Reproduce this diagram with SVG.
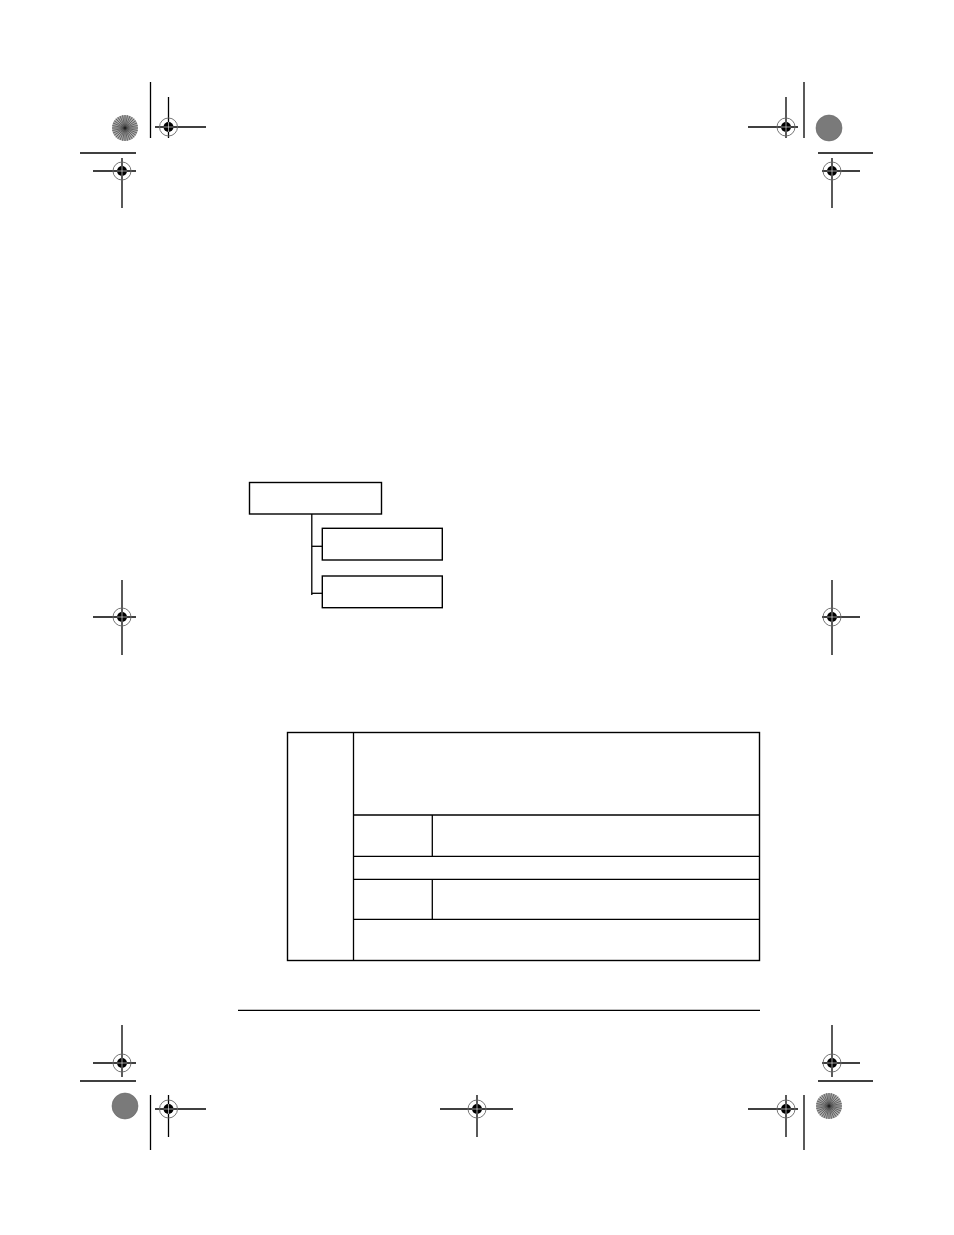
<svg xmlns="http://www.w3.org/2000/svg" xmlns:xlink="http://www.w3.org/1999/xlink" width="954" height="1235" viewBox="0 0 954 1235">
<style>
.ln{stroke:#000;stroke-width:1.3;fill:none}
.box{stroke:#000;stroke-width:1.4;fill:#fff}
.ring{stroke:#666;stroke-width:0.9;fill:none}
</style>
<defs>
<g id="reg">
<circle r="9" class="ring"/>
<circle r="5" fill="#000"/>
<line x1="-5" y1="0" x2="5" y2="0" stroke="#fff" stroke-width="0.6"/>
<line x1="0" y1="-5" x2="0" y2="5" stroke="#fff" stroke-width="0.6"/>
</g>
<g id="star">
<circle r="13" fill="#aaa"/>
<g stroke="#444" stroke-width="0.7">
<line x1="-13" y1="0" x2="13" y2="0"/>
<line x1="0" y1="-13" x2="0" y2="13"/>
<line x1="-9.2" y1="-9.2" x2="9.2" y2="9.2"/>
<line x1="-9.2" y1="9.2" x2="9.2" y2="-9.2"/>
<line x1="-12" y1="-5" x2="12" y2="5"/>
<line x1="-12" y1="5" x2="12" y2="-5"/>
<line x1="-5" y1="-12" x2="5" y2="12"/>
<line x1="-5" y1="12" x2="5" y2="-12"/>
<line x1="-12.7" y1="-2.5" x2="12.7" y2="2.5"/>
<line x1="-12.7" y1="2.5" x2="12.7" y2="-2.5"/>
<line x1="-2.5" y1="-12.7" x2="2.5" y2="12.7"/>
<line x1="-2.5" y1="12.7" x2="2.5" y2="-12.7"/>
<line x1="-10.8" y1="-7.2" x2="10.8" y2="7.2"/>
<line x1="-10.8" y1="7.2" x2="10.8" y2="-7.2"/>
<line x1="-7.2" y1="-10.8" x2="7.2" y2="10.8"/>
<line x1="-7.2" y1="10.8" x2="7.2" y2="-10.8"/>
</g>
<circle r="1.5" fill="#222"/>
</g>
<g id="dark">
<circle r="13" fill="#7a7a7a"/>
<circle r="13" fill="none" stroke="#666" stroke-width="0.6"/>
</g>
</defs>

<g id="registration-marks">
<!-- top-left -->
<line class="ln" x1="150.5" y1="82" x2="150.5" y2="138"/>
<line class="ln" x1="155" y1="127" x2="206" y2="127"/>
<line class="ln" x1="168.5" y1="97" x2="168.5" y2="138"/>
<use xlink:href="#reg" x="168.5" y="127"/>
<use xlink:href="#star" x="125" y="128"/>
<line class="ln" x1="80" y1="153" x2="136" y2="153"/>
<line class="ln" x1="93" y1="171" x2="136" y2="171"/>
<line class="ln" x1="122" y1="158" x2="122" y2="208"/>
<use xlink:href="#reg" x="122" y="171"/>
<!-- top-right -->
<line class="ln" x1="804" y1="82" x2="804" y2="138"/>
<line class="ln" x1="748" y1="127" x2="798" y2="127"/>
<line class="ln" x1="786" y1="97" x2="786" y2="138"/>
<use xlink:href="#reg" x="786" y="127"/>
<use xlink:href="#dark" x="829" y="128"/>
<line class="ln" x1="818" y1="153" x2="873" y2="153"/>
<line class="ln" x1="822" y1="171" x2="860" y2="171"/>
<line class="ln" x1="832" y1="158" x2="832" y2="208"/>
<use xlink:href="#reg" x="832" y="171"/>
<!-- middle -->
<line class="ln" x1="93" y1="617" x2="136" y2="617"/>
<line class="ln" x1="122" y1="580" x2="122" y2="655"/>
<use xlink:href="#reg" x="122" y="617"/>
<line class="ln" x1="822" y1="617" x2="860" y2="617"/>
<line class="ln" x1="832" y1="580" x2="832" y2="655"/>
<use xlink:href="#reg" x="832" y="617"/>
<!-- bottom-left -->
<line class="ln" x1="93" y1="1063" x2="136" y2="1063"/>
<line class="ln" x1="122" y1="1025" x2="122" y2="1077"/>
<use xlink:href="#reg" x="122" y="1063"/>
<line class="ln" x1="80" y1="1081" x2="136" y2="1081"/>
<use xlink:href="#dark" x="125" y="1106"/>
<line class="ln" x1="150.5" y1="1095" x2="150.5" y2="1150"/>
<line class="ln" x1="155" y1="1109" x2="206" y2="1109"/>
<line class="ln" x1="168.5" y1="1095" x2="168.5" y2="1137"/>
<use xlink:href="#reg" x="168.5" y="1109"/>
<!-- bottom-middle -->
<line class="ln" x1="440" y1="1109" x2="513" y2="1109"/>
<line class="ln" x1="477" y1="1095" x2="477" y2="1137"/>
<use xlink:href="#reg" x="477" y="1109"/>
<!-- bottom-right -->
<line class="ln" x1="822" y1="1063" x2="860" y2="1063"/>
<line class="ln" x1="832" y1="1025" x2="832" y2="1077"/>
<use xlink:href="#reg" x="832" y="1063"/>
<line class="ln" x1="818" y1="1081" x2="873" y2="1081"/>
<line class="ln" x1="748" y1="1109" x2="798" y2="1109"/>
<line class="ln" x1="786" y1="1095" x2="786" y2="1137"/>
<use xlink:href="#reg" x="786" y="1109"/>
<line class="ln" x1="804" y1="1095" x2="804" y2="1150"/>
<use xlink:href="#star" x="829" y="1106"/>
</g>

<g id="connectors">
<line class="ln" x1="311.8" y1="514" x2="311.8" y2="595"/>
<line class="ln" x1="311.8" y1="546.3" x2="322.3" y2="546.3"/>
<line class="ln" x1="311.8" y1="593.3" x2="322.3" y2="593.3"/>
</g>
<g id="node-root"><rect class="box" x="249.5" y="482.5" width="132" height="31.5"/></g>
<g id="node-child-1"><rect class="box" x="322.3" y="528.3" width="120" height="31.7"/></g>
<g id="node-child-2"><rect class="box" x="322.3" y="576" width="120" height="31.7"/></g>

<g id="table">
<rect class="box" x="287.5" y="732.5" width="472" height="228"/>
<line class="ln" x1="353.5" y1="732.5" x2="353.5" y2="960.5"/>
<line class="ln" x1="353.5" y1="815" x2="759.5" y2="815"/>
<line class="ln" x1="353.5" y1="856.3" x2="759.5" y2="856.3"/>
<line class="ln" x1="353.5" y1="879.3" x2="759.5" y2="879.3"/>
<line class="ln" x1="353.5" y1="919.3" x2="759.5" y2="919.3"/>
<line class="ln" x1="432.3" y1="815" x2="432.3" y2="856.3"/>
<line class="ln" x1="432.3" y1="879.3" x2="432.3" y2="919.3"/>
</g>

<g id="footer-rule">
<line class="ln" x1="238" y1="1010.3" x2="760" y2="1010.3"/>
</g>
</svg>
